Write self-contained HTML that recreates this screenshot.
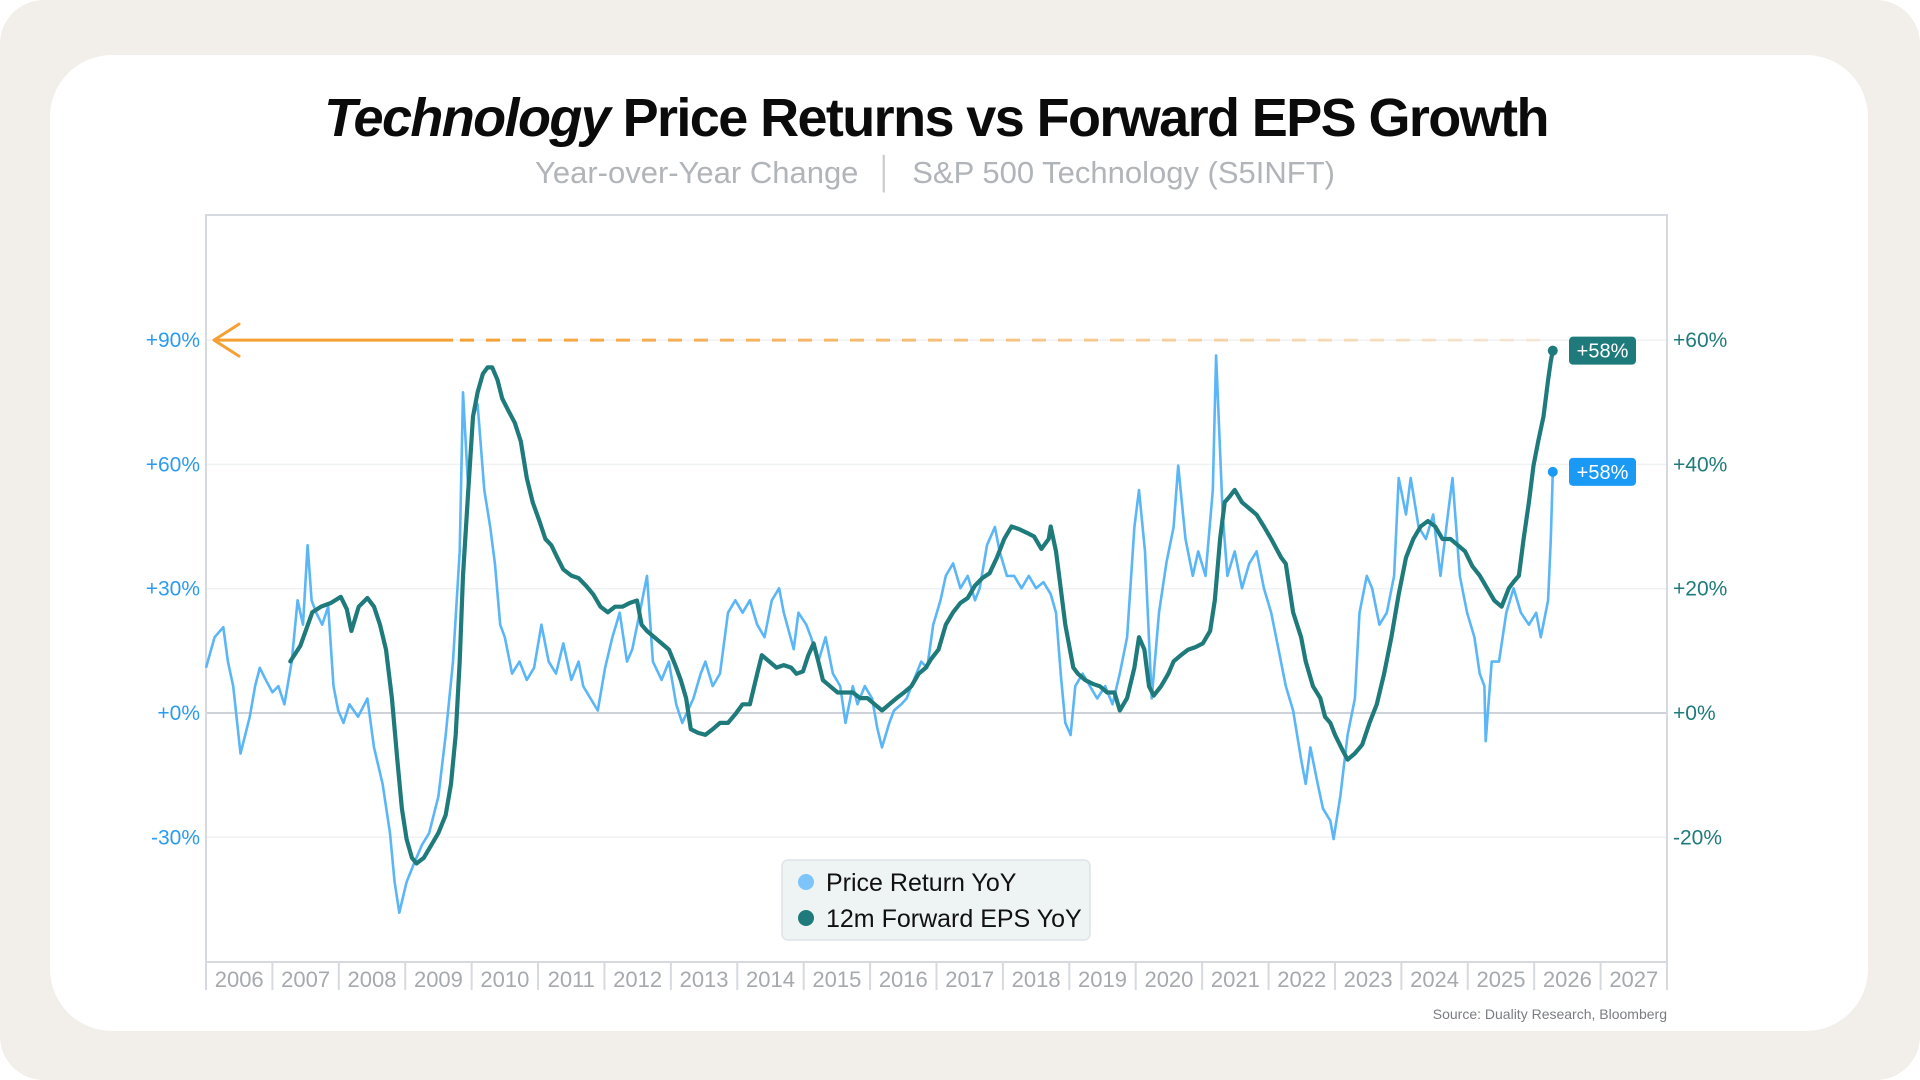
<!DOCTYPE html>
<html><head><meta charset="utf-8">
<style>
html,body{margin:0;padding:0;width:1920px;height:1080px;background:#fff;overflow:hidden;font-family:"Liberation Sans",sans-serif;}
#outer{position:absolute;left:0;top:0;width:1920px;height:1080px;background:#f2efea;border-radius:44px;}
#card{position:absolute;left:50px;top:55px;width:1818px;height:976px;background:#fff;border-radius:62px;}
#title{position:absolute;left:0;width:1872px;top:87px;text-align:center;font-size:54px;font-weight:bold;color:#0b0b0b;letter-spacing:-1.6px;}
#subtitle{position:absolute;left:0;width:1870px;top:155px;text-align:center;font-size:31px;color:#b1b4b9;}
#source{position:absolute;right:253px;top:1006px;font-size:14px;color:#7a7d82;}
svg{position:absolute;left:0;top:0;}
</style></head>
<body>
<div id="outer"></div>
<div id="card"></div>
<div id="title"><i>Technology</i> Price Returns vs Forward EPS Growth</div>
<div id="subtitle">Year-over-Year Change&nbsp;&nbsp;<span style="color:#c9ccd0">│</span>&nbsp;&nbsp;S&amp;P 500 Technology (S5INFT)</div>
<div id="source">Source: Duality Research, Bloomberg</div>
<svg id="chart" width="1920" height="1080"></svg>
<script>
const years=[2006,2007,2008,2009,2010,2011,2012,2013,2014,2015,2016,2017,2018,2019,2020,2021,2022,2023,2024,2025,2026,2027];
const leftTicks=[90,60,30,0,-30];
const leftTickLabels=["+90%","+60%","+30%","+0%","-30%"];
const rightTicks=[60,40,20,0,-20];
const rightTickLabels=["+60%","+40%","+20%","+0%","-20%"];
const priceDates=[2006.00,2006.13,2006.26,2006.33,2006.41,2006.52,2006.59,2006.66,2006.74,2006.81,2006.90,2007.00,2007.09,2007.18,2007.29,2007.38,2007.46,2007.53,2007.59,2007.66,2007.75,2007.84,2007.92,2007.99,2008.07,2008.16,2008.29,2008.43,2008.53,2008.66,2008.77,2008.84,2008.91,2009.02,2009.13,2009.25,2009.36,2009.50,2009.61,2009.72,2009.82,2009.87,2009.95,2010.02,2010.09,2010.19,2010.28,2010.35,2010.43,2010.50,2010.61,2010.72,2010.83,2010.94,2011.05,2011.16,2011.27,2011.38,2011.50,2011.61,2011.68,2011.79,2011.90,2012.01,2012.12,2012.23,2012.34,2012.42,2012.53,2012.64,2012.73,2012.86,2012.97,2013.08,2013.17,2013.34,2013.45,2013.52,2013.63,2013.74,2013.86,2013.97,2014.08,2014.19,2014.30,2014.41,2014.52,2014.63,2014.70,2014.85,2014.92,2015.04,2015.11,2015.22,2015.33,2015.44,2015.55,2015.63,2015.74,2015.81,2015.92,2016.03,2016.11,2016.18,2016.29,2016.36,2016.47,2016.55,2016.66,2016.77,2016.86,2016.95,2017.06,2017.14,2017.25,2017.36,2017.47,2017.58,2017.65,2017.76,2017.88,2017.95,2018.06,2018.17,2018.28,2018.39,2018.50,2018.61,2018.72,2018.80,2018.87,2018.94,2019.02,2019.09,2019.20,2019.31,2019.42,2019.54,2019.65,2019.76,2019.87,2019.98,2020.05,2020.14,2020.24,2020.35,2020.46,2020.57,2020.64,2020.75,2020.86,2020.94,2021.05,2021.16,2021.21,2021.31,2021.38,2021.49,2021.60,2021.71,2021.82,2021.93,2022.04,2022.15,2022.26,2022.37,2022.49,2022.56,2022.63,2022.74,2022.82,2022.93,2022.98,2023.08,2023.19,2023.30,2023.37,2023.48,2023.56,2023.67,2023.78,2023.89,2023.96,2024.07,2024.14,2024.26,2024.37,2024.48,2024.59,2024.70,2024.77,2024.88,2024.99,2025.10,2025.18,2025.25,2025.27,2025.36,2025.47,2025.58,2025.69,2025.80,2025.92,2026.03,2026.10,2026.21,2026.25,2026.28];
const priceValues=[10.9,18.3,20.7,12.4,6.5,-9.8,-5.3,-0.9,6.5,10.9,8.0,5.0,6.5,2.1,12.4,27.2,21.3,40.5,27.2,24.2,21.3,25.7,6.5,0.6,-2.4,2.1,-0.9,3.5,-8.3,-17.1,-29.0,-40.8,-48.2,-40.8,-36.4,-31.9,-29.0,-20.1,-5.3,12.4,39.0,77.4,53.8,71.5,74.5,53.8,44.9,36.1,21.3,18.3,9.5,12.4,8.0,10.9,21.3,12.4,9.5,16.8,8.0,12.4,6.5,3.5,0.6,10.9,18.3,24.2,12.4,15.4,24.2,33.1,12.4,8.0,12.4,2.1,-2.4,3.5,9.5,12.4,6.5,9.5,24.2,27.2,24.2,27.2,21.3,18.3,27.2,30.1,24.2,15.4,24.2,21.3,18.3,12.4,18.3,9.5,6.5,-2.4,6.5,2.1,6.5,3.5,-3.8,-8.3,-2.4,0.6,2.1,3.5,8.0,12.4,10.9,21.3,27.2,33.1,36.1,30.1,33.1,27.2,30.1,40.5,44.9,39.0,33.1,33.1,30.1,33.1,30.1,31.6,28.7,24.2,9.5,-2.4,-5.3,6.5,9.5,6.5,3.5,6.5,2.1,9.5,18.3,44.9,53.8,39.0,3.5,24.2,36.1,44.9,59.7,42.0,33.1,39.0,33.1,53.8,86.3,47.9,33.1,39.0,30.1,36.1,39.0,30.1,24.2,15.4,6.5,0.6,-11.2,-17.1,-8.3,-17.1,-23.1,-26.0,-30.4,-20.1,-5.3,3.5,24.2,33.1,30.1,21.3,24.2,33.1,56.7,47.9,56.7,44.9,42.0,47.9,33.1,47.9,56.7,33.1,24.2,18.3,9.5,6.5,-6.8,12.4,12.4,24.2,30.1,24.2,21.3,24.2,18.3,27.2,42.0,58.2];
const epsDates=[2007.27,2007.42,2007.60,2007.73,2007.88,2008.03,2008.12,2008.19,2008.30,2008.43,2008.53,2008.62,2008.71,2008.80,2008.88,2008.95,2009.02,2009.10,2009.17,2009.28,2009.39,2009.50,2009.61,2009.69,2009.76,2009.82,2009.87,2009.95,2010.02,2010.09,2010.17,2010.24,2010.31,2010.39,2010.46,2010.55,2010.65,2010.74,2010.83,2010.92,2011.02,2011.11,2011.20,2011.29,2011.38,2011.50,2011.61,2011.72,2011.83,2011.94,2012.05,2012.16,2012.27,2012.38,2012.49,2012.56,2012.64,2012.75,2012.86,2012.97,2013.08,2013.15,2013.23,2013.30,2013.41,2013.52,2013.63,2013.74,2013.86,2013.97,2014.08,2014.19,2014.30,2014.37,2014.48,2014.59,2014.70,2014.81,2014.89,2014.99,2015.07,2015.15,2015.22,2015.29,2015.40,2015.51,2015.63,2015.74,2015.85,2015.96,2016.07,2016.18,2016.29,2016.40,2016.51,2016.62,2016.73,2016.84,2016.92,2017.03,2017.14,2017.25,2017.36,2017.47,2017.58,2017.69,2017.80,2017.91,2018.02,2018.13,2018.24,2018.36,2018.47,2018.58,2018.69,2018.72,2018.80,2018.87,2018.94,2019.06,2019.13,2019.24,2019.35,2019.46,2019.57,2019.68,2019.76,2019.87,2019.98,2020.05,2020.13,2020.20,2020.27,2020.38,2020.49,2020.57,2020.68,2020.79,2020.90,2021.01,2021.12,2021.19,2021.27,2021.34,2021.42,2021.49,2021.60,2021.71,2021.82,2021.93,2022.04,2022.19,2022.26,2022.37,2022.49,2022.56,2022.67,2022.78,2022.85,2022.93,2023.00,2023.11,2023.19,2023.30,2023.41,2023.52,2023.63,2023.74,2023.85,2023.96,2024.07,2024.18,2024.29,2024.40,2024.51,2024.62,2024.74,2024.85,2024.96,2025.07,2025.18,2025.29,2025.40,2025.51,2025.62,2025.69,2025.77,2025.84,2025.92,2025.99,2026.06,2026.14,2026.21,2026.25,2026.28];
const epsValues=[8.3,10.8,16.2,17.1,17.7,18.7,16.7,13.2,17.1,18.5,17.1,14.2,10.2,2.4,-7.5,-15.4,-20.3,-23.3,-24.2,-23.3,-21.3,-19.3,-16.4,-11.4,-3.5,8.3,22.1,35.9,47.7,51.6,54.6,55.6,55.6,53.6,50.6,48.7,46.7,43.7,37.8,33.9,30.9,28.0,27.0,25.0,23.1,22.1,21.7,20.5,19.1,17.1,16.2,17.1,17.1,17.7,18.1,14.2,13.2,12.2,11.2,10.2,7.3,5.3,2.4,-2.6,-3.2,-3.5,-2.6,-1.6,-1.6,-0.2,1.4,1.4,6.3,9.3,8.3,7.3,7.7,7.3,6.3,6.7,9.3,11.2,8.3,5.3,4.3,3.3,3.3,3.3,2.4,2.4,1.4,0.4,1.4,2.4,3.3,4.3,6.3,7.3,8.7,10.2,14.2,16.2,17.7,18.5,20.5,21.7,22.5,25.0,28.0,30.0,29.6,29.0,28.4,26.4,28.0,30.0,26.0,20.1,14.2,7.3,6.3,5.3,4.7,4.3,3.3,3.3,0.4,2.4,7.3,12.2,10.2,4.3,2.8,4.3,6.3,8.3,9.3,10.2,10.6,11.2,13.2,18.1,28.0,33.9,34.9,35.9,33.9,32.9,31.9,30.0,28.0,25.0,24.0,16.2,12.2,8.3,4.3,2.4,-0.6,-1.6,-3.5,-5.9,-7.5,-6.5,-5.1,-1.6,1.4,6.3,12.2,19.1,25.0,28.0,30.0,30.9,30.0,28.0,28.0,27.0,26.0,23.6,22.1,20.1,18.1,17.1,20.1,21.1,22.1,28.0,33.9,39.8,43.7,47.7,53.6,56.6,58.3];

const NS="http://www.w3.org/2000/svg";
const svg=document.getElementById('chart');
const PL=206,PR=1667,PT=215,PB=962,X0=2006,X1=2028;
const Y0=713,UNIT_L=124.3/30,UNIT_R=124.3/20;
function xS(t){return PL+(t-X0)*(PR-PL)/(X1-X0);}
function yL(v){return Y0-v*UNIT_L;}
function yR(v){return Y0-v*UNIT_R;}
function mk(tag,attrs){const e=document.createElementNS(NS,tag);for(const k in attrs)e.setAttribute(k,attrs[k]);svg.appendChild(e);return e;}

leftTicks.forEach((v,i)=>{
  const g=mk('line',{x1:PL,x2:PR,y1:yL(v),y2:yL(v),stroke:v===0?'#cfd2d8':'#f0f1f3','stroke-width':v===0?2:1.5});
  
  
  const t=mk('text',{x:200,y:yL(v)+7,'text-anchor':'end','font-size':21,fill:'#2b9bf0','font-family':'Liberation Sans, sans-serif'});
  t.textContent=leftTickLabels[i];
  
  
});
rightTicks.forEach((v,i)=>{
  const t=mk('text',{x:1673,y:yR(v)+7,'text-anchor':'start','font-size':21,fill:'#1f7b7b','font-family':'Liberation Sans, sans-serif'});
  t.textContent=rightTickLabels[i];
  
  
});
const fr=mk('rect',{x:PL,y:PT,width:PR-PL,height:PB-PT,fill:'none',stroke:'#d6d9df','stroke-width':2});


years.forEach(y=>{
  const s=mk('line',{x1:xS(y),x2:xS(y),y1:PB,y2:990,stroke:'#d6d9df','stroke-width':2});
  
  
  const t=mk('text',{x:xS(y+0.5),y:987,'text-anchor':'middle','font-size':22,fill:'#a6a9ae','font-family':'Liberation Sans, sans-serif'});
  t.textContent=y;
  
  
});
const lastSep=mk('line',{x1:PR,x2:PR,y1:PB,y2:990,stroke:'#d6d9df','stroke-width':2});



const defs=mk('defs',{});
const lg=document.createElementNS(NS,'linearGradient');
lg.setAttribute('id','fade');lg.setAttribute('gradientUnits','userSpaceOnUse');
lg.setAttribute('x1',453);lg.setAttribute('x2',1550);lg.setAttribute('y1',0);lg.setAttribute('y2',0);
lg.innerHTML='<stop offset="0" stop-color="#f5a032" stop-opacity="1"/><stop offset="1" stop-color="#f5a032" stop-opacity="0.15"/>';
defs.appendChild(lg);
const ay=yL(90);
const a1=mk('line',{x1:214,x2:453,y1:ay,y2:ay,stroke:'#f5a032','stroke-width':3});


const a2=mk('line',{x1:460,x2:1550,y1:ay,y2:ay,stroke:'url(#fade)','stroke-width':3,'stroke-dasharray':'14 12'});


const a3=mk('polyline',{points:`${239},${ay-16} ${214},${ay} ${239},${ay+16}`,fill:'none',stroke:'#f5a032','stroke-width':3,'stroke-linecap':'round','stroke-linejoin':'round'});



const pp=mk('polyline',{points:priceDates.map((d,i)=>xS(d).toFixed(1)+','+yL(priceValues[i]).toFixed(1)).join(' '),fill:'none',stroke:'#5ab6f7','stroke-width':2.6,'stroke-linejoin':'round'});


const ep=mk('polyline',{points:epsDates.map((d,i)=>xS(d).toFixed(1)+','+yR(epsValues[i]).toFixed(1)).join(' '),fill:'none',stroke:'#1f7b7b','stroke-width':4.2,'stroke-linejoin':'round','stroke-linecap':'round'});



const pl=priceValues.length-1, el=epsValues.length-1;
const pd=mk('circle',{cx:xS(priceDates[pl]),cy:yL(priceValues[pl]),r:5,fill:'#1a9af5'});


const ed=mk('circle',{cx:xS(epsDates[el]),cy:yR(epsValues[el]),r:5,fill:'#1f7b7b'});


function badge(cy,fill,txt,name){
  const r=mk('rect',{x:1569,y:cy-14,width:67,height:28,rx:4,fill:fill});
  
  
  const t=mk('text',{x:1602.5,y:cy+7,'text-anchor':'middle','font-size':20,fill:'#fff','font-family':'Liberation Sans, sans-serif'});
  t.textContent=txt;
  
  
}
badge(yR(epsValues[el]),'#1f7b7b','+'+Math.round(epsValues[el])+'%','eps-end-badge');
badge(yL(priceValues[pl]),'#1a9af5','+'+Math.round(priceValues[pl])+'%','price-end-badge');

const lb=mk('rect',{x:782,y:860,width:308,height:80,rx:6,fill:'#eef3f3',stroke:'#dfe3e6','stroke-width':1.5});


[['#7cc4fa','Price Return YoY',882,'legend-entry-price'],['#1f7b7b','12m Forward EPS YoY',918,'legend-entry-eps']].forEach(e=>{
  const c=mk('circle',{cx:806,cy:e[2],r:8,fill:e[0]});
  
  
  const t=mk('text',{x:826,y:e[2]+9,'font-size':25,fill:'#111','font-family':'Liberation Sans, sans-serif'});
  t.textContent=e[1];
  
  
});
</script>
</body></html>
